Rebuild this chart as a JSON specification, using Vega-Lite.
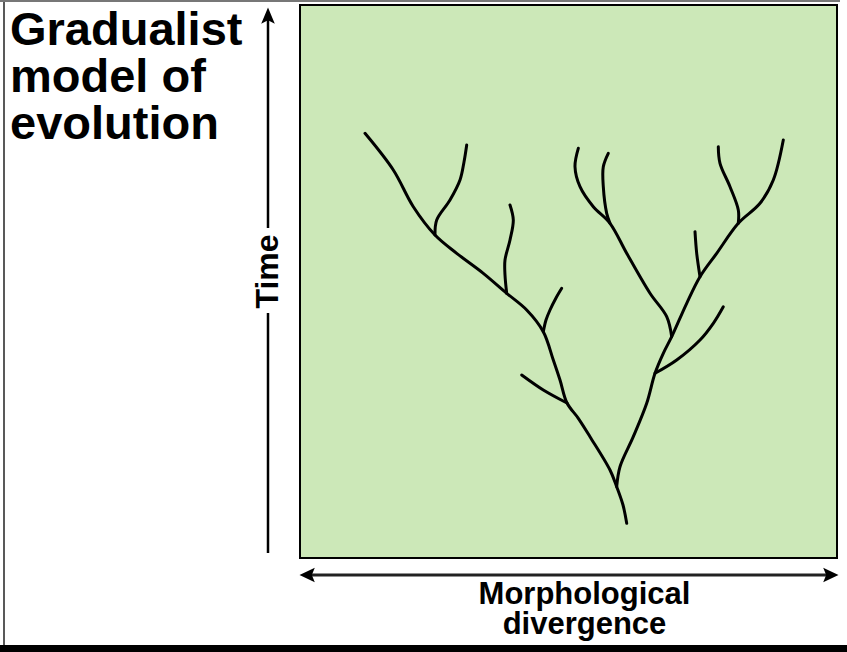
{
  "$schema": "https://vega.github.io/schema/vega-lite/v6.json",
  "width": 537,
  "height": 553,
  "autosize": "none",
  "padding": {"left": 300, "top": 5, "right": 10, "bottom": 94},
  "background": "white",
  "view": {"fill": "#cce8b8", "stroke": "black", "strokeWidth": 2},
  "datasets": {
    "tree": [
      {"branch": "A", "order": 1, "x": 326.7, "y": 34.7},
      {"branch": "A", "order": 2, "x": 323, "y": 53},
      {"branch": "A", "order": 3, "x": 316.7, "y": 71.3},
      {"branch": "A", "order": 4, "x": 310, "y": 88},
      {"branch": "A", "order": 5, "x": 290, "y": 121.3},
      {"branch": "A", "order": 6, "x": 278.3, "y": 139.7},
      {"branch": "A", "order": 7, "x": 267, "y": 155},
      {"branch": "A", "order": 8, "x": 260, "y": 178},
      {"branch": "A", "order": 9, "x": 253.3, "y": 198},
      {"branch": "A", "order": 10, "x": 243.3, "y": 226.3},
      {"branch": "A", "order": 11, "x": 226.7, "y": 248},
      {"branch": "A", "order": 12, "x": 206.7, "y": 264.7},
      {"branch": "A", "order": 13, "x": 183.3, "y": 284.7},
      {"branch": "A", "order": 14, "x": 156.7, "y": 304.7},
      {"branch": "A", "order": 15, "x": 135, "y": 323},
      {"branch": "A", "order": 16, "x": 113.3, "y": 351.3},
      {"branch": "A", "order": 17, "x": 93.3, "y": 388},
      {"branch": "A", "order": 18, "x": 65, "y": 424.7},
      {"branch": "B", "order": 1, "x": 267, "y": 155},
      {"branch": "B", "order": 2, "x": 243.3, "y": 168},
      {"branch": "B", "order": 3, "x": 221.7, "y": 183},
      {"branch": "C", "order": 1, "x": 243.3, "y": 226.3},
      {"branch": "C", "order": 2, "x": 246, "y": 238},
      {"branch": "C", "order": 3, "x": 250, "y": 248},
      {"branch": "C", "order": 4, "x": 256, "y": 260},
      {"branch": "C", "order": 5, "x": 261.7, "y": 269.7},
      {"branch": "D", "order": 1, "x": 206.7, "y": 264.7},
      {"branch": "D", "order": 2, "x": 205, "y": 283},
      {"branch": "D", "order": 3, "x": 205, "y": 298},
      {"branch": "D", "order": 4, "x": 210, "y": 318},
      {"branch": "D", "order": 5, "x": 213.3, "y": 338},
      {"branch": "D", "order": 6, "x": 210, "y": 353},
      {"branch": "E", "order": 1, "x": 135, "y": 323},
      {"branch": "E", "order": 2, "x": 136.7, "y": 338},
      {"branch": "E", "order": 3, "x": 150, "y": 358},
      {"branch": "E", "order": 4, "x": 160, "y": 378},
      {"branch": "E", "order": 5, "x": 164, "y": 396},
      {"branch": "E", "order": 6, "x": 166.7, "y": 413},
      {"branch": "F", "order": 1, "x": 316.7, "y": 71.3},
      {"branch": "F", "order": 2, "x": 320, "y": 91.3},
      {"branch": "F", "order": 3, "x": 333.3, "y": 121.3},
      {"branch": "F", "order": 4, "x": 346.7, "y": 154.7},
      {"branch": "F", "order": 5, "x": 355, "y": 184.7},
      {"branch": "F", "order": 6, "x": 363.3, "y": 204.7},
      {"branch": "F", "order": 7, "x": 371.7, "y": 221.3},
      {"branch": "F", "order": 8, "x": 386.7, "y": 254.7},
      {"branch": "F", "order": 9, "x": 400, "y": 281.3},
      {"branch": "F", "order": 10, "x": 416.7, "y": 304.7},
      {"branch": "F", "order": 11, "x": 438.3, "y": 334.7},
      {"branch": "F", "order": 12, "x": 460, "y": 354.7},
      {"branch": "F", "order": 13, "x": 473.3, "y": 378},
      {"branch": "F", "order": 14, "x": 483.3, "y": 418},
      {"branch": "G", "order": 1, "x": 355, "y": 184.7},
      {"branch": "G", "order": 2, "x": 376.7, "y": 198},
      {"branch": "G", "order": 3, "x": 400, "y": 218},
      {"branch": "G", "order": 4, "x": 413.3, "y": 234.7},
      {"branch": "G", "order": 5, "x": 423.3, "y": 251.3},
      {"branch": "H", "order": 1, "x": 371.7, "y": 221.3},
      {"branch": "H", "order": 2, "x": 366.7, "y": 241.3},
      {"branch": "H", "order": 3, "x": 350, "y": 264.7},
      {"branch": "H", "order": 4, "x": 326.7, "y": 304.7},
      {"branch": "H", "order": 5, "x": 310, "y": 334.7},
      {"branch": "H", "order": 6, "x": 293.3, "y": 351.3},
      {"branch": "H", "order": 7, "x": 280, "y": 371.3},
      {"branch": "H", "order": 8, "x": 275, "y": 391.3},
      {"branch": "H", "order": 9, "x": 278.3, "y": 409.7},
      {"branch": "I", "order": 1, "x": 310, "y": 334.7},
      {"branch": "I", "order": 2, "x": 306.7, "y": 344.7},
      {"branch": "I", "order": 3, "x": 303.3, "y": 371.3},
      {"branch": "I", "order": 4, "x": 303.3, "y": 391.3},
      {"branch": "I", "order": 5, "x": 308.3, "y": 404.7},
      {"branch": "J", "order": 1, "x": 400, "y": 281.3},
      {"branch": "J", "order": 2, "x": 396.7, "y": 304.7},
      {"branch": "J", "order": 3, "x": 395, "y": 326.3},
      {"branch": "K", "order": 1, "x": 438.3, "y": 334.7},
      {"branch": "K", "order": 2, "x": 438.3, "y": 348},
      {"branch": "K", "order": 3, "x": 430, "y": 371.3},
      {"branch": "K", "order": 4, "x": 420, "y": 394.7},
      {"branch": "K", "order": 5, "x": 418.3, "y": 411.3}
    ],
    "titleLines": [
      {"label": "Gradualist", "x": -290, "y": 513},
      {"label": "model of", "x": -290, "y": 466},
      {"label": "evolution", "x": -290, "y": 419}
    ],
    "timeShaft": [
      {"x": -32, "y": 5, "x2": -32, "y2": 245},
      {"x": -32, "y": 330, "x2": -32, "y2": 540}
    ],
    "divShaft": [
      {"x": 6, "y": -17, "x2": 532, "y2": -17}
    ],
    "heads": [
      {"dir": "up", "x": -32, "y": 542},
      {"dir": "left", "x": 8, "y": -17},
      {"dir": "right", "x": 530, "y": -17}
    ],
    "frameDark": [
      {"x": -296, "y": 558, "x2": -296, "y2": -94}
    ],
    "frameTop": [
      {"x": -300, "y": 557, "x2": 540, "y2": 557}
    ],
    "frameBottom": [
      {"x": -300, "y": -90.5, "x2": 547, "y2": -90.5}
    ]
  },
  "encoding": {
    "x": {
      "field": "x",
      "type": "quantitative",
      "scale": {"domain": [0, 537], "nice": false, "zero": false},
      "axis": {
        "title": ["Morphological", "divergence"],
        "domain": false,
        "ticks": false,
        "labels": false,
        "grid": false,
        "minExtent": 0,
        "titleFont": "Liberation Sans",
        "titleFontSize": 31,
        "titleFontWeight": "bold",
        "titleColor": "black",
        "titleBaseline": "alphabetic",
        "titlePadding": 45,
        "titleLineHeight": 30,
        "titleX": 284
      }
    },
    "y": {
      "field": "y",
      "type": "quantitative",
      "scale": {"domain": [0, 553], "nice": false, "zero": false},
      "axis": {
        "title": "Time",
        "domain": false,
        "ticks": false,
        "labels": false,
        "grid": false,
        "minExtent": 0,
        "titleFont": "Liberation Sans",
        "titleFontSize": 32,
        "titleFontWeight": "bold",
        "titleColor": "black",
        "titleBaseline": "alphabetic",
        "titlePadding": 23,
        "titleY": 266
      }
    }
  },
  "layer": [
    {
      "data": {"name": "tree"},
      "mark": {"type": "line", "color": "black", "strokeWidth": 3, "interpolate": "catmull-rom", "strokeCap": "round", "strokeJoin": "round"},
      "encoding": {
        "detail": {"field": "branch", "type": "nominal"},
        "order": {"field": "order", "type": "quantitative"}
      }
    },
    {
      "data": {"name": "titleLines"},
      "mark": {"type": "text", "align": "left", "baseline": "alphabetic", "font": "Liberation Sans", "fontSize": 47, "fontWeight": "bold", "color": "black"},
      "encoding": {
        "text": {"field": "label", "type": "nominal"}
      }
    },
    {
      "data": {"name": "timeShaft"},
      "mark": {"type": "rule", "color": "black", "strokeWidth": 2.5},
      "encoding": {
        "x2": {"field": "x2"},
        "y2": {"field": "y2"}
      }
    },
    {
      "data": {"name": "divShaft"},
      "mark": {"type": "rule", "color": "#222", "strokeWidth": 3},
      "encoding": {
        "x2": {"field": "x2"},
        "y2": {"field": "y2"}
      }
    },
    {
      "data": {"name": "heads"},
      "mark": {"type": "point", "filled": true, "color": "black", "opacity": 1, "size": 289, "strokeWidth": 0},
      "encoding": {
        "shape": {
          "field": "dir",
          "type": "nominal",
          "legend": null,
          "scale": {
            "domain": ["up", "left", "right"],
            "range": ["M0,-1L0.8,0.9L0,0.5L-0.8,0.9Z", "M-1,0L0.8,-0.85L0.45,0L0.8,0.85Z", "M1,0L-0.8,-0.85L-0.45,0L-0.8,0.85Z"]
          }
        }
      }
    },
    {
      "data": {"name": "frameDark"},
      "mark": {"type": "rule", "color": "#222", "strokeWidth": 1.5},
      "encoding": {
        "x2": {"field": "x2"},
        "y2": {"field": "y2"}
      }
    },
    {
      "data": {"name": "frameTop"},
      "mark": {"type": "rule", "color": "#777", "strokeWidth": 2},
      "encoding": {
        "x2": {"field": "x2"},
        "y2": {"field": "y2"}
      }
    },
    {
      "data": {"name": "frameBottom"},
      "mark": {"type": "rule", "color": "black", "strokeWidth": 7},
      "encoding": {
        "x2": {"field": "x2"},
        "y2": {"field": "y2"}
      }
    }
  ]
}
